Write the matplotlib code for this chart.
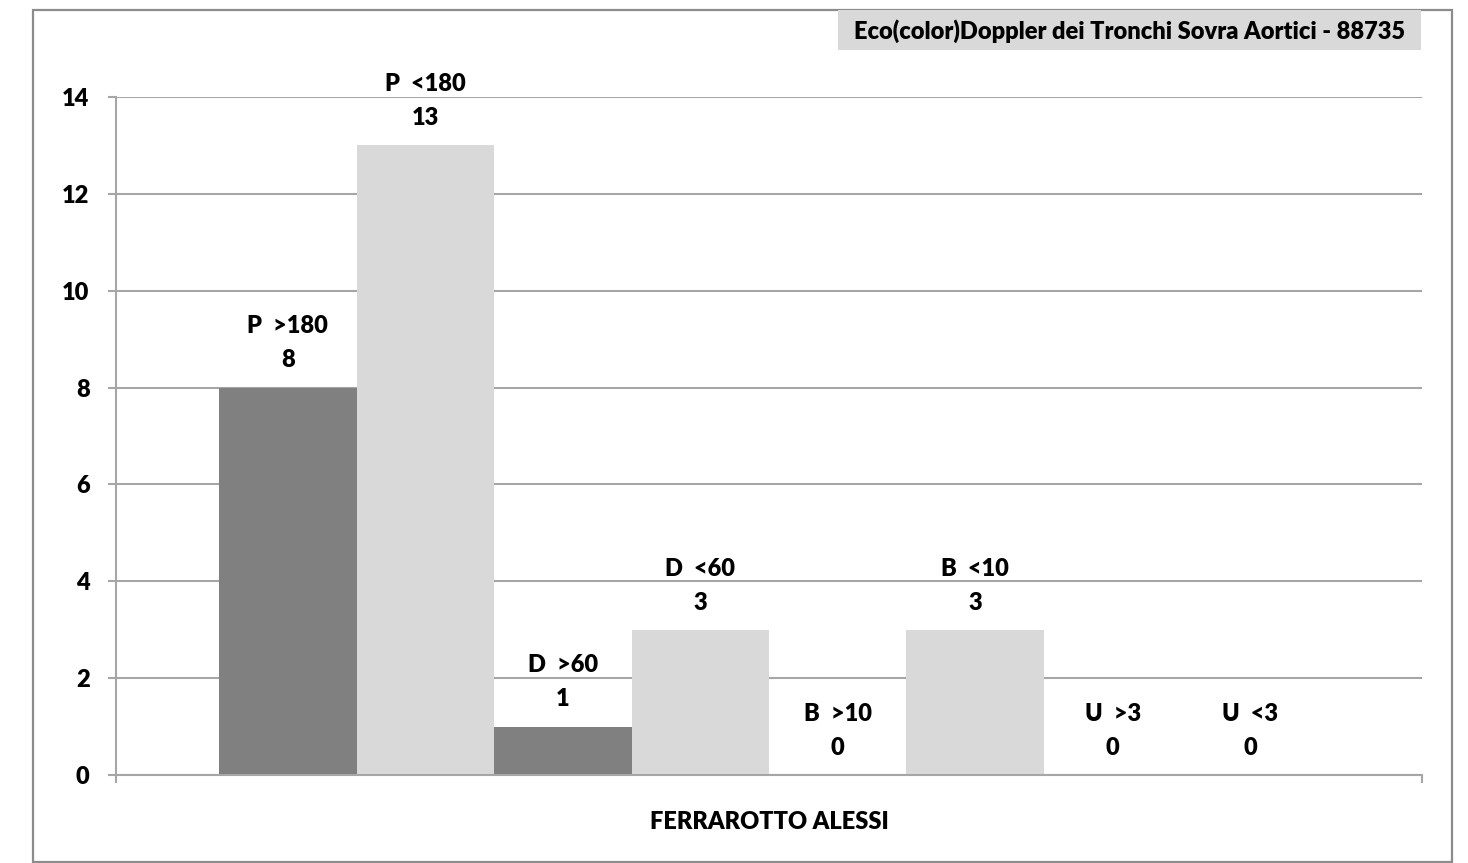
import matplotlib
matplotlib.use("Agg")
import matplotlib.pyplot as plt
from matplotlib.patches import Rectangle

# ---- data ----
labels = ["P  >180", "P  <180", "D  >60", "D  <60", "B  >10", "B  <10", "U  >3", "U  <3"]
values = [8, 13, 1, 3, 0, 3, 0, 0]
group_label = "FERRAROTTO ALESSI"
title = "Eco(color)Doppler dei Tronchi Sovra Aortici - 88735"
yticks = [0, 2, 4, 6, 8, 10, 12, 14]

DARK = "#808080"
LIGHT = "#d9d9d9"
GRID = "#a6a6a6"
colors = [DARK if i % 2 == 0 else LIGHT for i in range(len(values))]

plt.rcParams['font.family'] = ['Lato', 'DejaVu Sans']
plt.rcParams['font.weight'] = 'bold'
FS = 17
FW = 'heavy'

W, H = 1468, 863
fig = plt.figure(figsize=(W / 100, H / 100), dpi=100)

# outer frame
fig.patches.append(Rectangle((33 / W, 1 - 862 / H), (1452 - 33) / W, (862 - 10) / H,
                             transform=fig.transFigure, fill=False,
                             edgecolor="#8c8c8c", linewidth=1.6))
# title box
fig.patches.append(Rectangle((838 / W, 1 - 50 / H), (1421 - 838) / W, 40 / H,
                             transform=fig.transFigure, facecolor=LIGHT,
                             edgecolor="none"))
fig.text((838 + 1421) / 2 / W, 1 - 31 / H, title, ha="center", va="center",
         fontsize=FS, fontweight=FW, color="black")

ax = fig.add_axes([116 / W, 1 - 775 / H, 1306 / W, 678 / H])

n = len(values)
gap = 1.5
bw = 1.0 / (n + gap)
x0 = gap / 2 * bw
xs = [x0 + bw * (i + 0.5) for i in range(n)]

ax.bar(xs, values, width=bw, color=colors, edgecolor="none", zorder=2)

ax.set_xlim(0, 1)
ax.set_ylim(0, 14)
ax.set_yticks(yticks)
ax.set_yticklabels([str(t) for t in yticks], fontsize=FS, fontweight=FW)
ax.yaxis.grid(True, color=GRID, linewidth=1.5, zorder=0)
ax.set_axisbelow(True)

for s in ["top", "right"]:
    ax.spines[s].set_visible(False)
for s in ["left", "bottom"]:
    ax.spines[s].set_color(GRID)
    ax.spines[s].set_linewidth(1.5)

ax.tick_params(axis="y", length=6, width=1.5, color=GRID, pad=13)
ax.set_xticks([0.5])
ax.set_xticklabels([group_label], fontsize=FS, fontweight=FW)
ax.tick_params(axis="x", which="major", length=0, pad=26)
ax.set_xticks([0, 1], minor=True)
ax.tick_params(axis="x", which="minor", length=6, width=1.5, color=GRID, direction="out")

for x, v, lab in zip(xs, values, labels):
    ax.annotate(str(v), xy=(x, v), xytext=(0, 19.5), textcoords="offset points",
                ha="center", va="center", fontsize=FS, fontweight=FW, zorder=3)
    ax.annotate(lab, xy=(x, v), xytext=(0, 44), textcoords="offset points",
                ha="center", va="center", fontsize=FS, fontweight=FW, zorder=3)

fig.savefig("out.png", dpi=100)
